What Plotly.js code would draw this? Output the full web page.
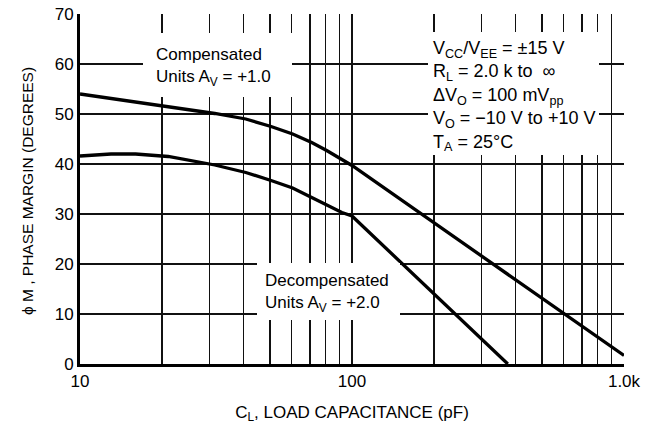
<!DOCTYPE html>
<html>
<head>
<meta charset="utf-8">
<script src="https://cdn.plot.ly/plotly-3.0.1.min.js"></script>
<style>
html,body{margin:0;padding:0;background:#fff;}
#chart{width:658px;height:428px;}
</style>
</head>
<body>
<div id="chart"></div>
<script>
// Data
const compCap   = [10, 13, 21.1, 31.3, 40.7, 50.4, 60.5, 71.1, 80.7, 91.8, 100, 1000];
const compPhase = [54, 53.1, 51.5, 50.1, 49.0, 47.5, 46.0, 44.3, 42.7, 40.9, 39.7, 1.7];
const decCap    = [10, 13, 16, 21.1, 31.3, 40.7, 50.4, 60.5, 71.1, 80.7, 91.8, 100, 374];
const decPhase  = [41.6, 42.0, 42.0, 41.5, 39.8, 38.3, 36.7, 35.2, 33.3, 31.8, 30.3, 29.6, 0];

const xTickVals = [10,20,30,40,50,60,70,80,90,100,200,300,400,500,600,700,800,900,1000];
const xTickText = ['10','','','','','','','','','100','','','','','','','','','1.0k'];
const yTickVals = [0,10,20,30,40,50,60,70];

const compLabel = 'Compensated<br>Units A<sub>V</sub> = +1.0';
const decLabel  = 'Decompensated<br>Units A<sub>V</sub> = +2.0';
const condLabel = 'V<sub>CC</sub>/V<sub>EE</sub> = ±15 V<br>R<sub>L</sub> = 2.0 k to  ∞<br>ΔV<sub>O</sub> = 100 mV<sub>pp</sub><br>V<sub>O</sub> = −10 V to +10 V<br>T<sub>A</sub> = 25°C';
const yTitle = 'ϕ M , PHASE MARGIN (DEGREES)';

const FONT = '"Liberation Sans", Arial, Helvetica, sans-serif';

const lineStyle = {color:'#000', width:3.3};
const traces = [
  {x: compCap, y: compPhase, mode:'lines', line: lineStyle, hoverinfo:'skip'},
  {x: decCap, y: decPhase, mode:'lines', line: lineStyle, hoverinfo:'skip'}
];

// plot area: x 80..624 px, y 14..364 px
function px(p){ return (p-80)/544; }
function py(p){ return (364-p)/350; }

// white background box (blocks the grid) drawn as an annotation
function box(x0,x1,y0,y1){
  return {xref:'paper', yref:'paper', x:px((x0+x1)/2), y:py((y0+y1)/2),
    xanchor:'center', yanchor:'middle', showarrow:false, text:' ',
    width:x1-x0, height:y1-y0, borderpad:0, borderwidth:0, bgcolor:'#fff',
    font:{family:FONT, size:10, color:'#fff'}};
}
function label(text, xl, yc, size){
  return {xref:'paper', yref:'paper', x:px(xl), y:py(yc), xanchor:'left', yanchor:'middle',
    showarrow:false, align:'left', borderpad:0, text:text,
    font:{family:FONT, size:size, color:'#000'}};
}

const layout = {
  width:658, height:428,
  margin:{l:80, r:34, t:14, b:64},
  paper_bgcolor:'#fff', plot_bgcolor:'#fff',
  showlegend:false,
  font:{family:FONT, size:17, color:'#000'},
  xaxis:{
    type:'log', range:[1,3],
    tickmode:'array', tickvals:xTickVals, ticktext:xTickText,
    showgrid:true, gridcolor:'#111', gridwidth:1.3,
    showline:true, linecolor:'#000', linewidth:3,
    ticks:'', zeroline:false,
    tickfont:{family:FONT, size:17},
    title:{text:'C<sub>L</sub>, LOAD CAPACITANCE (pF)', font:{family:FONT, size:17}, standoff:16}
  },
  yaxis:{
    range:[0,70],
    tickmode:'array', tickvals:yTickVals,
    showgrid:true, gridcolor:'#111', gridwidth:1.3,
    showline:true, linecolor:'#000', linewidth:3,
    ticks:'', zeroline:false,
    tickfont:{family:FONT, size:17}
  },
  annotations:[
    box(143,292,33,97),
    box(428,599,32,155),
    box(257,400,263,320),
    label(compLabel, 155, 67, 17),
    label(condLabel, 432, 96, 18),
    label(decLabel, 264, 293, 17),
    {xref:'paper', yref:'paper', x:px(27), y:py(191), xanchor:'center', yanchor:'middle',
     textangle:-90, showarrow:false, text:yTitle, font:{family:FONT, size:15.5, color:'#000'}}
  ]
};

Plotly.newPlot('chart', traces, layout, {staticPlot:true, displayModeBar:false});
</script>
</body>
</html>
